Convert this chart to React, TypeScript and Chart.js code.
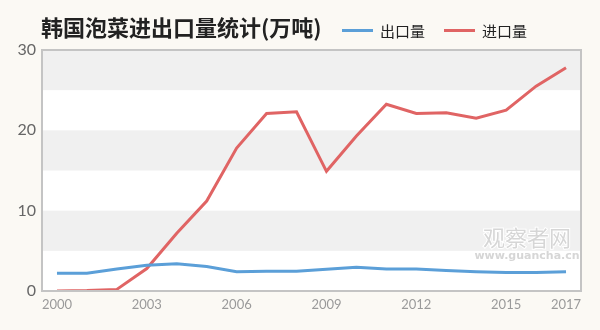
import React, { useEffect, useRef } from "react";
import { Chart, registerables } from "chart.js";

Chart.register(...registerables);

const years = ["2000","2001","2002","2003","2004","2005","2006","2007","2008","2009","2010","2011","2012","2013","2014","2015","2016","2017"];
const shownYears = ["2000","2003","2006","2009","2012","2015","2017"];
const exportValues = [2.2, 2.2, 2.75, 3.2, 3.4, 3.05, 2.4, 2.45, 2.45, 2.7, 2.95, 2.75, 2.75, 2.55, 2.4, 2.3, 2.3, 2.4];
const importValues = [0, 0.05, 0.2, 2.8, 7.2, 11.2, 17.8, 22.1, 22.3, 14.9, 19.3, 23.25, 22.1, 22.2, 21.5, 22.5, 25.5, 27.8];
const yTicks = [0, 10, 20, 30];
const bandRanges = [[5, 10], [15, 20], [25, 30]];
const titleText = "韩国泡菜进出口量统计(万吨)";
const seriesNames = ["出口量", "进口量"];
const seriesColors = ["#5b9fd8", "#e06464"];
const watermarkMain = "观察者网";
const watermarkSub = "www.guancha.cn";

const CJK = '"Noto Sans CJK SC", "Noto Sans", sans-serif';

const decorPlugin = {
  id: "decor",
  beforeDraw(chart: any) {
    const { ctx, chartArea: a, scales } = chart;
    const y = scales.y;
    ctx.save();
    ctx.fillStyle = "#fbf9f4";
    ctx.fillRect(0, 0, chart.width, chart.height);
    ctx.fillStyle = "#ffffff";
    ctx.fillRect(a.left, a.top, a.right - a.left, a.bottom - a.top);
    ctx.fillStyle = "#f0f0f0";
    for (const [lo, hi] of bandRanges) {
      const y1 = y.getPixelForValue(hi);
      const y2 = y.getPixelForValue(lo);
      ctx.fillRect(a.left, y1, a.right - a.left, y2 - y1);
    }
    // watermark
    ctx.textAlign = "center";
    ctx.textBaseline = "middle";
    ctx.font = `22px ${CJK}`;
    ctx.lineWidth = 2;
    ctx.strokeStyle = "#ffffff";
    ctx.strokeText(watermarkMain, 527, 238);
    ctx.fillStyle = "#d6d6d6";
    ctx.fillText(watermarkMain, 527, 238);
    ctx.font = `bold 11px "DejaVu Sans", sans-serif`;
    ctx.fillText(watermarkSub, 527, 256);
    ctx.restore();
  },
  afterDraw(chart: any) {
    const { ctx, chartArea: a } = chart;
    ctx.save();
    ctx.strokeStyle = "#c4c4c4";
    ctx.lineWidth = 2;
    ctx.strokeRect(a.left, a.top, a.right - a.left, a.bottom - a.top);
    // title
    ctx.fillStyle = "#222222";
    ctx.textAlign = "left";
    ctx.textBaseline = "middle";
    ctx.font = `bold 22px ${CJK}`;
    ctx.fillText(titleText, 41, 28);
    // legend
    const items = [
      { x: 342, name: seriesNames[0], color: seriesColors[0] },
      { x: 444, name: seriesNames[1], color: seriesColors[1] },
    ];
    ctx.font = `15px ${CJK}`;
    for (const it of items) {
      ctx.fillStyle = it.color;
      ctx.fillRect(it.x, 29, 31, 3);
      ctx.fillStyle = "#222222";
      ctx.fillText(it.name, it.x + 38, 31);
    }
    ctx.restore();
  },
};

export default function App() {
  const ref = useRef<HTMLCanvasElement>(null);
  useEffect(() => {
    if (!ref.current) return;
    const chart = new Chart(ref.current, {
      type: "line",
      data: {
        labels: years,
        datasets: [
          {
            label: seriesNames[0],
            data: exportValues,
            borderColor: seriesColors[0],
            backgroundColor: seriesColors[0],
            borderWidth: 3,
            pointRadius: 0,
            tension: 0,
          },
          {
            label: seriesNames[1],
            data: importValues,
            borderColor: seriesColors[1],
            backgroundColor: seriesColors[1],
            borderWidth: 3,
            pointRadius: 0,
            tension: 0,
          },
        ],
      },
      options: {
        animation: false,
        responsive: false,
        layout: { padding: { top: 50, right: 19, left: 0, bottom: 0 } },
        plugins: { legend: { display: false }, title: { display: false }, tooltip: { enabled: false } },
        scales: {
          x: {
            type: "category",
            offset: true,
            grid: { display: false, drawTicks: false },
            border: { display: false },
            ticks: {
              autoSkip: false,
              maxRotation: 0,
              padding: 6,
              color: "#9a9a9a",
              font: { family: "Lato, sans-serif", size: 13 },
              callback: function (this: any, _v: any, i: number) {
                const l = years[i];
                return shownYears.includes(l) ? l : "";
              },
            },
            afterFit: (s: any) => { s.height = 39; },
          },
          y: {
            min: 0,
            max: 30,
            afterBuildTicks: (s: any) => { s.ticks = yTicks.map((v) => ({ value: v })); },
            grid: { display: false, drawTicks: false },
            border: { display: false },
            ticks: {
              padding: 6,
              color: "#666666",
              font: { family: "Lato, sans-serif", size: 16 },
            },
            afterFit: (s: any) => { s.width = 42; },
          },
        },
      },
      plugins: [decorPlugin],
    });
    return () => chart.destroy();
  }, []);
  return (
    <div style={{ position: "fixed", left: 0, top: 0, width: 600, height: 330 }}>
      <canvas ref={ref} width={600} height={330} style={{ display: "block" }} />
    </div>
  );
}
